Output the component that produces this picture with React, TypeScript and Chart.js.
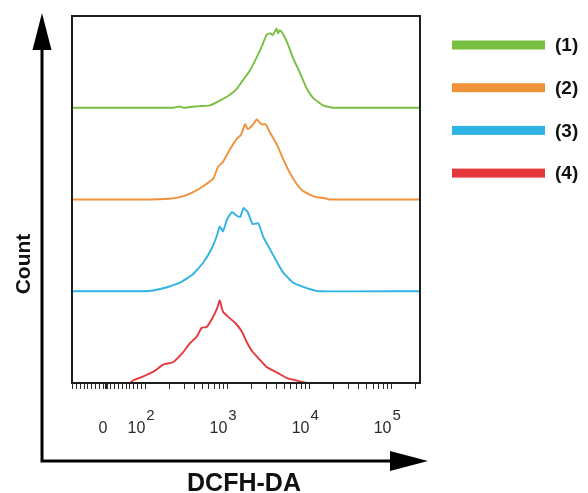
import React, { useEffect, useRef } from 'react';
import { Chart, registerables } from 'chart.js';

Chart.register(...registerables);

// ---------- data (x in decades of DCFH-DA intensity, counts in % of mode) ----------
const SERIES_LABELS = ['(1)', '(2)', '(3)', '(4)'];
const SERIES_COLORS = ['#78bf3f', '#f0923a', '#2eb3e3', '#e4383c'];
const LANE_OFFSETS = [3, 2, 1, 0];

const S1_X = [1.11, 2.34, 2.42, 2.47, 2.55, 2.67, 2.79, 2.91, 3.03, 3.12, 3.19, 3.28, 3.36, 3.42, 3.48, 3.52, 3.56, 3.60, 3.62, 3.64, 3.67, 3.73, 3.80, 3.89, 3.97, 4.05, 4.17, 4.29, 4.34, 5.35];
const S1_COUNT = [0, 0, 1.5, 0, 1, 2, 3, 9, 16, 24, 34, 47, 63, 76, 91, 93, 91, 99, 93, 97, 94, 82, 63, 43, 24, 12, 3, 0, 0, 0];

const S2_X = [1.11, 1.94, 2.30, 2.46, 2.58, 2.70, 2.83, 2.89, 2.95, 3.03, 3.12, 3.17, 3.22, 3.25, 3.31, 3.36, 3.42, 3.47, 3.52, 3.61, 3.68, 3.76, 3.85, 3.92, 4.05, 4.22, 4.25, 5.35];
const S2_COUNT = [0, 0, 1, 4, 9, 16, 26, 41, 47, 62, 76, 81, 94, 88, 93, 100, 94, 94, 84, 68, 51, 34, 19, 11, 4, 1, 0, 0];

const S3_X = [1.11, 1.97, 2.10, 2.27, 2.43, 2.58, 2.71, 2.82, 2.88, 2.91, 2.95, 3.00, 3.06, 3.12, 3.16, 3.20, 3.25, 3.31, 3.38, 3.44, 3.52, 3.61, 3.68, 3.80, 3.97, 4.13, 5.35];
const S3_COUNT = [0, 0, 1, 5, 11, 21, 36, 55, 71, 81, 75, 90, 99, 94, 93, 104, 99, 84, 85, 68, 53, 36, 24, 11, 4, 0, 0];

const S4_X = [1.82, 1.85, 1.97, 2.10, 2.22, 2.34, 2.46, 2.55, 2.63, 2.69, 2.75, 2.82, 2.88, 2.91, 2.95, 3.01, 3.10, 3.18, 3.24, 3.31, 3.40, 3.48, 3.61, 3.73, 3.85, 3.97];
const S4_COUNT = [0, 3, 8, 14, 23, 26, 38, 50, 58, 69, 70, 81, 94, 103, 89, 83, 75, 64, 51, 39, 29, 20, 13, 6, 3, 0];

const SERIES_X = [S1_X, S2_X, S3_X, S4_X];
const SERIES_COUNT = [S1_COUNT, S2_COUNT, S3_COUNT, S4_COUNT];

// ---------- axis ----------
const X_MIN = 1.11;
const X_MAX = 5.35;
const ZERO_POS = 1.536;
const TICK_LABEL_VALUES = [0, 1e2, 1e3, 1e4, 1e5];
const TICK_LABEL_BASE = ['0', '10', '10', '10', '10'];
const TICK_LABEL_EXP = ['', '2', '3', '4', '5'];
const MINOR_DECADES = [2, 3, 4, 5];
const MINOR_MULTIPLIERS = [2, 3, 4, 5, 6, 7, 8, 9];
const LINEAR_STEPS = [-90, -80, -70, -60, -50, -40, -30, -20, -10, 10, 20, 30, 40, 50, 60, 70, 80, 90];
const X_TITLE = 'DCFH-DA';
const Y_TITLE = 'Count';

const LANE_SCALE = 0.00872;
const FONT = '"Liberation Sans", Arial, Helvetica, sans-serif';

function toDisplay(v: number): number {
  if (v >= 100) return Math.log10(v);
  return ZERO_POS + (v / 100) * (2 - ZERO_POS);
}

function buildTickValues(): number[] {
  const vals: number[] = [];
  TICK_LABEL_VALUES.forEach((v) => vals.push(toDisplay(v)));
  MINOR_DECADES.forEach((d) => {
    MINOR_MULTIPLIERS.forEach((k) => {
      const p = toDisplay(k * Math.pow(10, d));
      if (p <= X_MAX) vals.push(p);
    });
  });
  LINEAR_STEPS.forEach((v) => {
    const p = toDisplay(v);
    if (p >= X_MIN) vals.push(p);
  });
  return vals.sort((a, b) => a - b);
}

const decorPlugin = {
  id: 'decor',
  afterDraw(chart: any) {
    const ctx = chart.ctx as CanvasRenderingContext2D;
    const { left, top, right, bottom } = chart.chartArea;
    const xs = chart.scales.x;
    ctx.save();

    // plot frame
    ctx.strokeStyle = '#1e1e1e';
    ctx.lineWidth = 2;
    ctx.strokeRect(left, top, right - left, bottom - top);

    // tick labels
    ctx.fillStyle = '#2b2b2b';
    ctx.textBaseline = 'alphabetic';
    ctx.textAlign = 'left';
    TICK_LABEL_VALUES.forEach((v, i) => {
      const cx = xs.getPixelForValue(toDisplay(v)) - 4;
      ctx.font = `16px ${FONT}`;
      const base = TICK_LABEL_BASE[i];
      const wb = ctx.measureText(base).width;
      const exp = TICK_LABEL_EXP[i];
      ctx.font = `15px ${FONT}`;
      const we = exp ? ctx.measureText(exp).width + 1 : 0;
      const start = cx - (wb + we) / 2;
      ctx.font = `16px ${FONT}`;
      ctx.fillText(base, start, 433);
      if (exp) {
        ctx.font = `15px ${FONT}`;
        ctx.fillText(exp, start + wb + 1, 420);
      }
    });

    // axis arrows
    ctx.strokeStyle = '#000';
    ctx.fillStyle = '#000';
    ctx.lineWidth = 3;
    ctx.beginPath();
    ctx.moveTo(42, 462.5);
    ctx.lineTo(42, 45);
    ctx.moveTo(40.5, 461);
    ctx.lineTo(395, 461);
    ctx.stroke();
    ctx.beginPath();
    ctx.moveTo(42, 13);
    ctx.lineTo(32.5, 50);
    ctx.lineTo(51.5, 50);
    ctx.closePath();
    ctx.fill();
    ctx.beginPath();
    ctx.moveTo(428, 461);
    ctx.lineTo(390, 451);
    ctx.lineTo(390, 471);
    ctx.closePath();
    ctx.fill();

    // axis titles
    ctx.fillStyle = '#111';
    ctx.textAlign = 'center';
    ctx.textBaseline = 'alphabetic';
    ctx.font = `bold 25px ${FONT}`;
    ctx.fillText(X_TITLE, 244, 491);
    ctx.save();
    ctx.translate(30, 264);
    ctx.rotate(-Math.PI / 2);
    ctx.font = `bold 21px ${FONT}`;
    ctx.fillText(Y_TITLE, 0, 0);
    ctx.restore();

    // legend
    chart.data.datasets.forEach((ds: any, i: number) => {
      const cy = 45 + i * 42.7;
      ctx.fillStyle = ds.borderColor;
      ctx.fillRect(452, cy - 4.5, 93, 9);
      ctx.fillStyle = '#111';
      ctx.textAlign = 'left';
      ctx.textBaseline = 'middle';
      ctx.font = `bold 19px ${FONT}`;
      ctx.fillText(ds.label, 555, cy + 1);
    });

    ctx.restore();
  },
};

export default function App() {
  const canvasRef = useRef<HTMLCanvasElement | null>(null);

  useEffect(() => {
    document.body.style.margin = '0';
    const canvas = canvasRef.current;
    if (!canvas) return;
    const tickValues = buildTickValues();
    const zeroTick = toDisplay(0);

    const datasets = SERIES_LABELS.map((label, i) => ({
      label,
      data: SERIES_X[i].map((x, j) => ({ x, y: LANE_OFFSETS[i] + SERIES_COUNT[i][j] * LANE_SCALE })),
      borderColor: SERIES_COLORS[i],
      backgroundColor: SERIES_COLORS[i],
      borderWidth: 1.9,
      pointRadius: 0,
      tension: 0.15,
      fill: false,
    }));

    const chart = new Chart(canvas, {
      type: 'line',
      data: { datasets },
      options: {
        animation: false,
        responsive: false,
        events: [],
        layout: { padding: { left: 72, top: 16, right: 168, bottom: 104 } },
        plugins: { legend: { display: false }, tooltip: { enabled: false }, title: { display: false } },
        scales: {
          x: {
            type: 'linear',
            min: X_MIN,
            max: X_MAX,
            offset: false,
            afterBuildTicks: (scale: any) => {
              scale.ticks = tickValues.map((value) => ({ value }));
            },
            ticks: { display: false },
            border: { display: false },
            grid: {
              drawOnChartArea: false,
              drawTicks: true,
              tickLength: 6,
              color: '#2a2a2a',
              lineWidth: (c: any) => (c.tick && Math.abs(c.tick.value - zeroTick) < 1e-6 ? 3 : 1),
            },
          },
          y: {
            type: 'linear',
            display: false,
            min: 0,
            max: 4,
          },
        },
      },
      plugins: [decorPlugin],
    } as any);

    return () => chart.destroy();
  }, []);

  return (
    <div style={{ width: 588, height: 493, position: 'relative', background: '#fff' }}>
      <canvas ref={canvasRef} width={588} height={493} style={{ display: 'block' }} />
    </div>
  );
}
